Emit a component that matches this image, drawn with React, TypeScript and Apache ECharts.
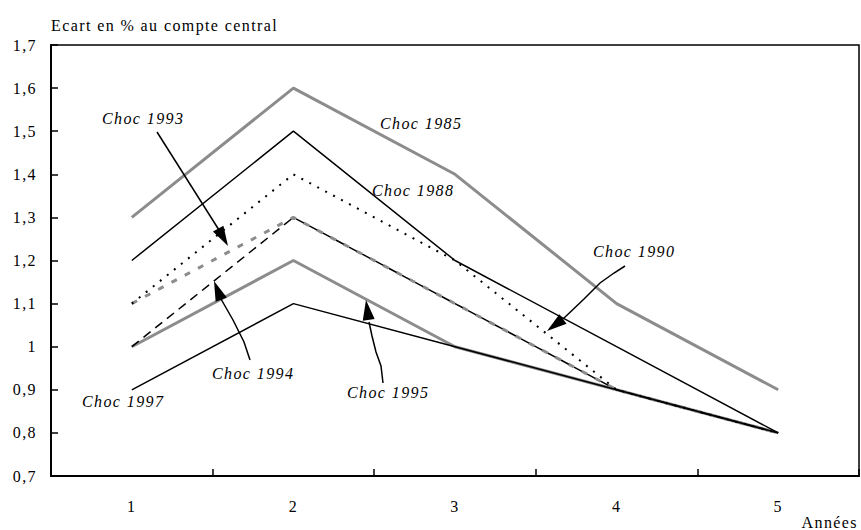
import React, { useEffect, useRef } from "react";
import * as echarts from "echarts";

const categories = ["1", "2", "3", "4", "5"];
const choc1985 = [1.3, 1.6, 1.4, 1.1, 0.9];
const choc1988 = [1.2, 1.5, 1.2, 1.0, 0.8];
const choc1990 = [1.1, 1.4, 1.2, 0.9, 0.8];
const choc1993 = [1.1, 1.3, 1.1, 0.9, 0.8];
const choc1994 = [1.0, 1.3, 1.1, 0.9, 0.8];
const choc1995 = [1.0, 1.2, 1.0, 0.9, 0.8];
const choc1997 = [0.9, 1.1, 1.0, 0.9, 0.8];

const FONT = '"Liberation Serif", "Times New Roman", serif';
const GRAY = "#8c8c8c";

function arrowHead(tip: number[], from: number[], len = 20, half = 6) {
  const dx = tip[0] - from[0];
  const dy = tip[1] - from[1];
  const d = Math.sqrt(dx * dx + dy * dy);
  const ux = dx / d, uy = dy / d;
  const bx = tip[0] - ux * len, by = tip[1] - uy * len;
  return {
    type: "polygon",
    shape: { points: [tip, [bx - uy * half, by + ux * half], [bx + uy * half, by - ux * half]] },
    style: { fill: "#000" },
    z: 100,
  };
}

function arrow(points: number[][], tip: number[]) {
  return [
    { type: "polyline", shape: { points }, style: { stroke: "#000", lineWidth: 1.5, fill: null }, z: 100 },
    arrowHead(tip, points[points.length - 1]),
  ];
}

function label(text: string, x: number, y: number) {
  return {
    type: "text",
    x,
    y,
    style: { text, font: `italic 16px ${FONT}`, fill: "#000", verticalAlign: "middle", align: "left" },
    z: 100,
  };
}

export default function App() {
  const ref = useRef<HTMLDivElement>(null);
  useEffect(() => {
    document.body.style.margin = "0";
    const chart = echarts.init(ref.current!, null, { renderer: "svg" });
    const mk = (name: string, data: number[], color: string, width: number, type: any, z: number) => ({
      name,
      type: "line",
      data,
      symbol: "none",
      z,
      lineStyle: { color, width, type },
    });
    chart.setOption({
      animation: false,
      grid: { left: 51, right: 2, top: 45, bottom: 54, containLabel: false, show: true, borderColor: "#000", borderWidth: 1.5 },
      xAxis: {
        type: "category",
        data: categories,
        boundaryGap: true,
        axisLine: { lineStyle: { color: "#000", width: 2 } },
        axisTick: { show: true, inside: true, length: 7, lineStyle: { color: "#000", width: 1.5 } },
        axisLabel: { margin: 22, fontFamily: FONT, fontSize: 16, color: "#000" },
        splitLine: { show: false },
      },
      yAxis: {
        type: "value",
        min: 0.7,
        max: 1.7,
        interval: 0.1,
        axisLine: { show: true, lineStyle: { color: "#000", width: 2 } },
        axisTick: { show: true, inside: true, length: 7, lineStyle: { color: "#000", width: 1.5 } },
        axisLabel: {
          margin: 14,
          fontFamily: FONT,
          fontSize: 16,
          color: "#000",
          formatter: (v: number) => {
            const r = Math.round(v * 10) / 10;
            return Number.isInteger(r) ? String(r) : r.toFixed(1).replace(".", ",");
          },
        },
        splitLine: { show: false },
      },
      series: [
        mk("Choc 1985", choc1985, GRAY, 3, "solid", 2),
        mk("Choc 1995", choc1995, GRAY, 3, "solid", 2),
        mk("Choc 1993", choc1993, GRAY, 3, [6, 9], 2),
        mk("Choc 1988", choc1988, "#000", 1.5, "solid", 3),
        mk("Choc 1990", choc1990, "#000", 2, [2, 7], 3),
        mk("Choc 1994", choc1994, "#000", 1.5, [9, 6], 3),
        mk("Choc 1997", choc1997, "#000", 1.5, "solid", 3),
      ],
      graphic: [
        {
          type: "text",
          x: 51,
          y: 25,
          style: { text: "Ecart en % au compte central", font: `16px ${FONT}`, fill: "#000", verticalAlign: "middle" },
        },
        {
          type: "text",
          x: 858,
          y: 522,
          style: { text: "Années", font: `16px ${FONT}`, fill: "#000", verticalAlign: "middle", align: "right" },
        },
        label("Choc 1993", 102, 118),
        label("Choc 1985", 380, 123),
        label("Choc 1988", 372, 190),
        label("Choc 1990", 593, 251),
        label("Choc 1994", 212, 373),
        label("Choc 1997", 82, 401),
        label("Choc 1995", 347, 392),
        ...arrow([[157, 132], [219, 230]], [228, 246]),
        ...arrow([[250, 360], [244, 342], [233, 320], [221, 299]], [214, 281]),
        ...arrow([[383, 383], [381, 366], [376, 352], [372, 336], [369, 322]], [366, 300]),
        ...arrow([[625, 266], [614, 273], [600, 283], [584, 299], [563, 319]], [547, 331]),
      ],
    });
    return () => chart.dispose();
  }, []);
  return (
    <>
      <style>{`#root svg text { letter-spacing: 1.4px; }`}</style>
      <div ref={ref} style={{ width: 861, height: 530 }} />
    </>
  );
}
